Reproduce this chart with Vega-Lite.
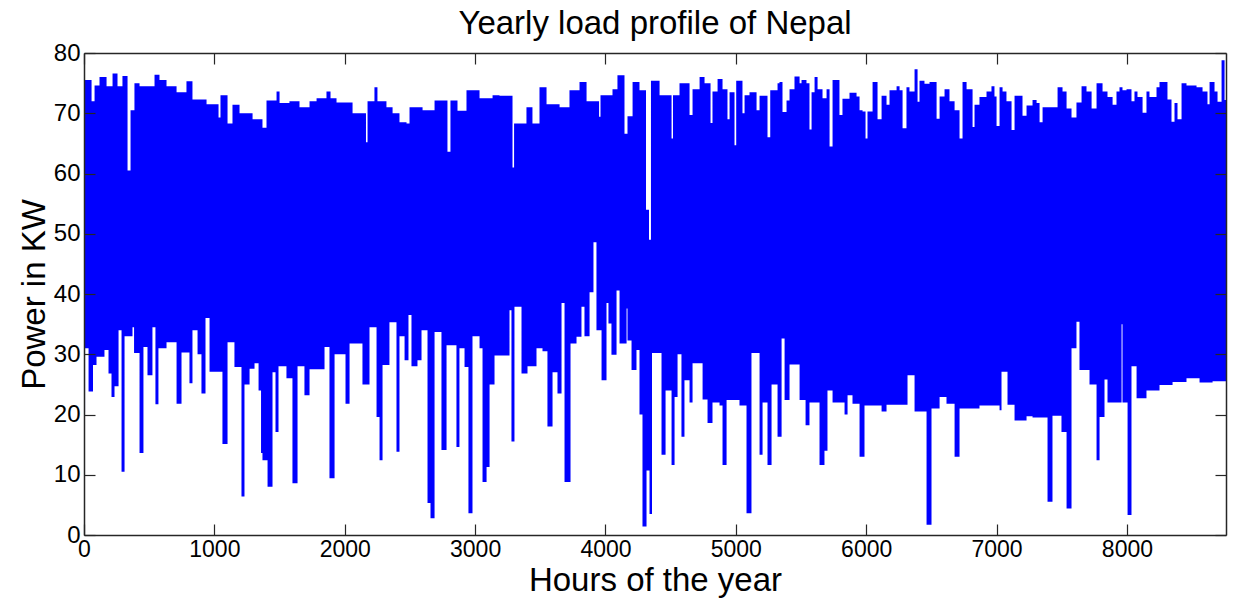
{
  "$schema": "https://vega.github.io/schema/vega-lite/v6.json",
  "autosize": {"type": "none"},
  "padding": {"left": 84, "top": 53, "right": 11, "bottom": 64},
  "width": 1142,
  "height": 482,
  "background": "#ffffff",
  "config": {"view": {"stroke": null}},
  "title": {"text": "Yearly load profile of Nepal", "font": "Liberation Sans", "fontSize": 33, "fontWeight": "normal", "color": "#000000", "offset": 0},
  "data": {"values": [
{"h":0,"hi":75.5,"lo":20.4},{"h":8,"hi":75.5,"lo":31},{"h":35,"hi":75.5,"lo":23.8},{"h":58,"hi":72,"lo":23.8},{"h":69,"hi":72,"lo":28.2},{"h":81,"hi":74.6,"lo":28.2},{"h":96,"hi":74.6,"lo":29.6},{"h":119,"hi":76,"lo":29.6},{"h":157,"hi":76,"lo":30.7},{"h":173,"hi":74.5,"lo":30.7},{"h":188,"hi":74.5,"lo":26.8},{"h":211,"hi":74.5,"lo":22.9},{"h":219,"hi":76.6,"lo":22.9},{"h":234,"hi":76.6,"lo":24.7},{"h":257,"hi":74.5,"lo":24.7},{"h":265,"hi":74.5,"lo":34},{"h":288,"hi":74.5,"lo":10.5},{"h":295,"hi":76.2,"lo":10.5},{"h":311,"hi":76.2,"lo":33},{"h":334,"hi":60.5,"lo":33},{"h":357,"hi":70.5,"lo":33},{"h":372,"hi":70.5,"lo":34.5},{"h":384,"hi":70.5,"lo":30.2},{"h":387,"hi":75,"lo":30.2},{"h":426,"hi":74.5,"lo":13.6},{"h":456,"hi":74.5,"lo":31.2},{"h":487,"hi":74.5,"lo":26.5},{"h":525,"hi":74.5,"lo":34.5},{"h":541,"hi":76.4,"lo":34.5},{"h":548,"hi":76.4,"lo":21.7},{"h":571,"hi":76.4,"lo":31},{"h":579,"hi":75.5,"lo":31},{"h":633,"hi":74.5,"lo":32},{"h":710,"hi":73.5,"lo":21.8},{"h":748,"hi":73.5,"lo":30.3},{"h":786,"hi":75.3,"lo":30.3},{"h":809,"hi":75.3,"lo":25.2},{"h":832,"hi":72.3,"lo":34},{"h":871,"hi":72.3,"lo":30},{"h":901,"hi":72.3,"lo":23.5},{"h":932,"hi":72.3,"lo":36},{"h":940,"hi":71.5,"lo":36},{"h":963,"hi":71.5,"lo":27.1},{"h":1032,"hi":69.3,"lo":27.1},{"h":1047,"hi":73,"lo":27.1},{"h":1062,"hi":73,"lo":15.1},{"h":1101,"hi":68.3,"lo":32},{"h":1139,"hi":71.4,"lo":32},{"h":1154,"hi":71.4,"lo":27.9},{"h":1193,"hi":70,"lo":27.9},{"h":1208,"hi":70,"lo":6.4},{"h":1231,"hi":70,"lo":25},{"h":1270,"hi":70,"lo":27.6},{"h":1293,"hi":69,"lo":27.6},{"h":1308,"hi":69,"lo":28.5},{"h":1339,"hi":69,"lo":24},{"h":1358,"hi":69,"lo":13.6},{"h":1369,"hi":67.6,"lo":12.4},{"h":1400,"hi":72.1,"lo":12.4},{"h":1408,"hi":72.1,"lo":8},{"h":1446,"hi":72.1,"lo":27},{"h":1469,"hi":72.1,"lo":17.1},{"h":1477,"hi":73.6,"lo":17.1},{"h":1492,"hi":73.6,"lo":28},{"h":1500,"hi":71.7,"lo":28},{"h":1553,"hi":71.7,"lo":26},{"h":1576,"hi":72,"lo":26},{"h":1599,"hi":72,"lo":8.6},{"h":1638,"hi":72,"lo":28},{"h":1653,"hi":71,"lo":28},{"h":1691,"hi":71,"lo":23.2},{"h":1730,"hi":72,"lo":27.5},{"h":1784,"hi":72.5,"lo":27.5},{"h":1845,"hi":72.5,"lo":31.2},{"h":1860,"hi":73.6,"lo":31.2},{"h":1883,"hi":73.6,"lo":9.4},{"h":1891,"hi":72.5,"lo":9.4},{"h":1922,"hi":72.5,"lo":30},{"h":1937,"hi":71.8,"lo":30},{"h":2006,"hi":71.8,"lo":21.8},{"h":2037,"hi":71.8,"lo":31.8},{"h":2060,"hi":70,"lo":31.8},{"h":2136,"hi":70,"lo":25},{"h":2163,"hi":65.2,"lo":25},{"h":2175,"hi":72,"lo":25},{"h":2190,"hi":72,"lo":34.5},{"h":2228,"hi":74.3,"lo":34.5},{"h":2244,"hi":74.3,"lo":19.6},{"h":2251,"hi":72,"lo":19.6},{"h":2267,"hi":72,"lo":12.4},{"h":2290,"hi":72,"lo":28.2},{"h":2320,"hi":71,"lo":28.2},{"h":2343,"hi":71,"lo":35.3},{"h":2367,"hi":70,"lo":35.3},{"h":2397,"hi":70,"lo":13.8},{"h":2420,"hi":68.5,"lo":33},{"h":2459,"hi":68.5,"lo":29},{"h":2474,"hi":68.3,"lo":29},{"h":2489,"hi":68.3,"lo":36.5},{"h":2497,"hi":71,"lo":36.5},{"h":2512,"hi":71,"lo":28},{"h":2558,"hi":71,"lo":29},{"h":2589,"hi":71,"lo":34},{"h":2597,"hi":70.5,"lo":34},{"h":2635,"hi":70.5,"lo":5.3},{"h":2658,"hi":70.5,"lo":2.8},{"h":2689,"hi":72.1,"lo":33.7},{"h":2742,"hi":72.1,"lo":14.1},{"h":2781,"hi":72.1,"lo":31.5},{"h":2788,"hi":63.6,"lo":31.5},{"h":2811,"hi":72.1,"lo":31.5},{"h":2857,"hi":72.1,"lo":14.6},{"h":2865,"hi":70.4,"lo":14.6},{"h":2880,"hi":70.4,"lo":31},{"h":2919,"hi":70.4,"lo":27.9},{"h":2934,"hi":73.8,"lo":27.9},{"h":2949,"hi":73.8,"lo":3.6},{"h":2980,"hi":73.8,"lo":33},{"h":3034,"hi":72.5,"lo":31},{"h":3057,"hi":72.5,"lo":8.8},{"h":3088,"hi":72.5,"lo":11.3},{"h":3111,"hi":72.5,"lo":25},{"h":3134,"hi":73,"lo":25},{"h":3149,"hi":73,"lo":29.8},{"h":3187,"hi":72.9,"lo":29.8},{"h":3264,"hi":72.9,"lo":37.3},{"h":3279,"hi":72.9,"lo":15.5},{"h":3287,"hi":61,"lo":15.5},{"h":3299,"hi":68.3,"lo":15.5},{"h":3302,"hi":68.3,"lo":37.9},{"h":3356,"hi":68.3,"lo":26.8},{"h":3394,"hi":71,"lo":26.8},{"h":3402,"hi":71,"lo":28},{"h":3440,"hi":68.3,"lo":28},{"h":3471,"hi":68.3,"lo":31},{"h":3494,"hi":74.3,"lo":31},{"h":3517,"hi":74.3,"lo":30.5},{"h":3548,"hi":71.5,"lo":30.5},{"h":3555,"hi":71.5,"lo":18},{"h":3594,"hi":71.5,"lo":27},{"h":3632,"hi":71.5,"lo":23.5},{"h":3648,"hi":71,"lo":23.5},{"h":3663,"hi":71,"lo":38.5},{"h":3686,"hi":71,"lo":8.8},{"h":3724,"hi":73.8,"lo":8.8},{"h":3732,"hi":73.8,"lo":31.8},{"h":3778,"hi":73.8,"lo":32.9},{"h":3801,"hi":75.2,"lo":32.9},{"h":3816,"hi":75.2,"lo":37.9},{"h":3839,"hi":75.2,"lo":33},{"h":3855,"hi":72,"lo":33},{"h":3878,"hi":72,"lo":40.3},{"h":3908,"hi":72,"lo":48.6},{"h":3931,"hi":72,"lo":34},{"h":3951,"hi":69.4,"lo":34},{"h":3962,"hi":73,"lo":34},{"h":3970,"hi":73,"lo":25.7},{"h":4008,"hi":73,"lo":38.5},{"h":4023,"hi":73,"lo":35.1},{"h":4046,"hi":73,"lo":29.9},{"h":4054,"hi":74,"lo":29.9},{"h":4085,"hi":74,"lo":40.6},{"h":4092,"hi":76.3,"lo":40.6},{"h":4108,"hi":76.3,"lo":31.8},{"h":4146,"hi":66.6,"lo":31.8},{"h":4162,"hi":66.6,"lo":37.6},{"h":4169,"hi":69.5,"lo":32.3},{"h":4200,"hi":69.5,"lo":27.4},{"h":4208,"hi":75.2,"lo":27.4},{"h":4238,"hi":75.2,"lo":30.7},{"h":4261,"hi":73.8,"lo":20},{"h":4284,"hi":73.8,"lo":1.4},{"h":4311,"hi":54,"lo":1.4},{"h":4315,"hi":54,"lo":10.7},{"h":4334,"hi":49,"lo":10.7},{"h":4338,"hi":49,"lo":3.5},{"h":4349,"hi":75.4,"lo":3.5},{"h":4357,"hi":75.4,"lo":30.2},{"h":4415,"hi":73,"lo":30.2},{"h":4430,"hi":73,"lo":13.3},{"h":4461,"hi":73,"lo":24},{"h":4507,"hi":65.8,"lo":11.6},{"h":4518,"hi":73,"lo":11.6},{"h":4530,"hi":73,"lo":22.9},{"h":4553,"hi":73,"lo":30},{"h":4568,"hi":75,"lo":30},{"h":4583,"hi":75,"lo":16.3},{"h":4606,"hi":75,"lo":25.7},{"h":4645,"hi":69.7,"lo":22},{"h":4668,"hi":74,"lo":28.5},{"h":4722,"hi":76,"lo":28.5},{"h":4745,"hi":76,"lo":22.5},{"h":4760,"hi":75,"lo":22.5},{"h":4783,"hi":75,"lo":18.6},{"h":4806,"hi":68.4,"lo":18.6},{"h":4821,"hi":73.6,"lo":22},{"h":4860,"hi":75.7,"lo":22},{"h":4875,"hi":75.7,"lo":21.5},{"h":4898,"hi":74,"lo":11.6},{"h":4929,"hi":74,"lo":22.4},{"h":4936,"hi":69,"lo":22.4},{"h":4952,"hi":73.5,"lo":22.4},{"h":4990,"hi":64.7,"lo":22.4},{"h":5003,"hi":75.4,"lo":22.4},{"h":5028,"hi":75.4,"lo":21.5},{"h":5051,"hi":70,"lo":21.5},{"h":5067,"hi":73,"lo":21.5},{"h":5082,"hi":73,"lo":3.6},{"h":5105,"hi":73.5,"lo":3.6},{"h":5120,"hi":73.5,"lo":30.2},{"h":5159,"hi":70.5,"lo":30.2},{"h":5182,"hi":72.9,"lo":13.3},{"h":5205,"hi":72.9,"lo":22},{"h":5243,"hi":66,"lo":11.6},{"h":5264,"hi":73.8,"lo":11.6},{"h":5274,"hi":73.8,"lo":25},{"h":5320,"hi":75,"lo":16.3},{"h":5335,"hi":75.2,"lo":16.3},{"h":5351,"hi":75.2,"lo":32.6},{"h":5358,"hi":70.2,"lo":32.6},{"h":5374,"hi":70.2,"lo":22.4},{"h":5389,"hi":72.1,"lo":22.4},{"h":5412,"hi":74,"lo":28.3},{"h":5450,"hi":76.1,"lo":28.3},{"h":5489,"hi":75,"lo":22.4},{"h":5504,"hi":75.5,"lo":22.4},{"h":5535,"hi":75.5,"lo":18.2},{"h":5542,"hi":75,"lo":18.2},{"h":5565,"hi":67.3,"lo":22},{"h":5581,"hi":73.5,"lo":22},{"h":5604,"hi":76,"lo":22},{"h":5627,"hi":74,"lo":22},{"h":5642,"hi":74,"lo":11.6},{"h":5665,"hi":72.5,"lo":11.6},{"h":5680,"hi":72.5,"lo":14},{"h":5696,"hi":74,"lo":14},{"h":5703,"hi":74,"lo":24},{"h":5719,"hi":64.5,"lo":24},{"h":5742,"hi":75.5,"lo":22},{"h":5795,"hi":69.7,"lo":22},{"h":5818,"hi":72.4,"lo":22},{"h":5834,"hi":72.4,"lo":20},{"h":5857,"hi":72.4,"lo":23.2},{"h":5872,"hi":73.4,"lo":23.2},{"h":5895,"hi":73.4,"lo":21.8},{"h":5926,"hi":72.8,"lo":21.8},{"h":5949,"hi":70.5,"lo":13},{"h":5972,"hi":70.3,"lo":13},{"h":5987,"hi":70.3,"lo":21.5},{"h":5995,"hi":65.8,"lo":21.5},{"h":6010,"hi":70.3,"lo":21.5},{"h":6049,"hi":75.2,"lo":21.5},{"h":6087,"hi":69,"lo":21.5},{"h":6118,"hi":72.9,"lo":20.5},{"h":6156,"hi":71.4,"lo":21.6},{"h":6179,"hi":73.8,"lo":21.6},{"h":6233,"hi":74.5,"lo":21.6},{"h":6256,"hi":73.8,"lo":21.6},{"h":6279,"hi":67.5,"lo":21.6},{"h":6309,"hi":74.3,"lo":21.6},{"h":6317,"hi":74.3,"lo":26.5},{"h":6332,"hi":73.6,"lo":26.5},{"h":6371,"hi":77.3,"lo":20.5},{"h":6394,"hi":71.9,"lo":20.5},{"h":6409,"hi":75.4,"lo":20.5},{"h":6447,"hi":74.9,"lo":20.5},{"h":6463,"hi":74.9,"lo":1.7},{"h":6486,"hi":75.2,"lo":1.7},{"h":6501,"hi":75.2,"lo":21},{"h":6540,"hi":69.1,"lo":21},{"h":6563,"hi":72.8,"lo":22.9},{"h":6601,"hi":74,"lo":22.9},{"h":6616,"hi":74,"lo":21.8},{"h":6639,"hi":72,"lo":21.8},{"h":6678,"hi":70.5,"lo":13},{"h":6716,"hi":65.8,"lo":21},{"h":6739,"hi":75.2,"lo":21},{"h":6770,"hi":74,"lo":21},{"h":6816,"hi":67.7,"lo":21},{"h":6831,"hi":71.4,"lo":21},{"h":6869,"hi":72.7,"lo":21.5},{"h":6923,"hi":73.6,"lo":21.5},{"h":6961,"hi":74.5,"lo":21.5},{"h":6984,"hi":72.8,"lo":21.5},{"h":7000,"hi":67.9,"lo":21.5},{"h":7023,"hi":74.3,"lo":20.7},{"h":7038,"hi":74.3,"lo":27.1},{"h":7046,"hi":73.6,"lo":27.1},{"h":7076,"hi":72,"lo":27.1},{"h":7084,"hi":72,"lo":21.6},{"h":7115,"hi":67.2,"lo":21.6},{"h":7138,"hi":72.9,"lo":19},{"h":7199,"hi":69.6,"lo":19},{"h":7230,"hi":71.3,"lo":19.7},{"h":7276,"hi":72.2,"lo":19.5},{"h":7307,"hi":71.7,"lo":19.5},{"h":7330,"hi":68.5,"lo":19.5},{"h":7353,"hi":71,"lo":19.5},{"h":7391,"hi":71,"lo":5.5},{"h":7429,"hi":71,"lo":19.8},{"h":7468,"hi":74.3,"lo":19.8},{"h":7498,"hi":74.3,"lo":17.1},{"h":7506,"hi":73.6,"lo":17.1},{"h":7537,"hi":70.8,"lo":4.4},{"h":7575,"hi":69.3,"lo":31},{"h":7613,"hi":71.8,"lo":35.4},{"h":7636,"hi":71.8,"lo":27.4},{"h":7652,"hi":74.5,"lo":27.4},{"h":7690,"hi":73.6,"lo":27.4},{"h":7713,"hi":73.6,"lo":25},{"h":7729,"hi":70.8,"lo":25},{"h":7767,"hi":75,"lo":12.4},{"h":7790,"hi":75,"lo":19.6},{"h":7813,"hi":73.6,"lo":19.6},{"h":7828,"hi":73.6,"lo":25.8},{"h":7851,"hi":72.7,"lo":22},{"h":7890,"hi":71.4,"lo":22},{"h":7920,"hi":73.6,"lo":22},{"h":7943,"hi":74.3,"lo":22},{"h":7959,"hi":74.3,"lo":35},{"h":7966,"hi":73.8,"lo":22},{"h":7997,"hi":74,"lo":22},{"h":8005,"hi":74,"lo":3.3},{"h":8035,"hi":72,"lo":28},{"h":8058,"hi":73.6,"lo":28},{"h":8074,"hi":73.6,"lo":22.7},{"h":8081,"hi":72.7,"lo":22.7},{"h":8120,"hi":70.1,"lo":22.7},{"h":8150,"hi":73.6,"lo":24},{"h":8173,"hi":72.7,"lo":24},{"h":8227,"hi":74.3,"lo":24},{"h":8250,"hi":75.2,"lo":24.9},{"h":8311,"hi":72.3,"lo":24.9},{"h":8342,"hi":68.6,"lo":24.9},{"h":8350,"hi":68.6,"lo":25.4},{"h":8365,"hi":71.7,"lo":25.4},{"h":8388,"hi":69,"lo":25.4},{"h":8419,"hi":75,"lo":25.4},{"h":8457,"hi":74.6,"lo":26},{"h":8534,"hi":74.3,"lo":26},{"h":8557,"hi":74.3,"lo":25.3},{"h":8580,"hi":73.6,"lo":25.3},{"h":8618,"hi":71.5,"lo":25.3},{"h":8634,"hi":75.2,"lo":25.3},{"h":8657,"hi":75.2,"lo":25.5},{"h":8672,"hi":73.6,"lo":25.5},{"h":8695,"hi":71.9,"lo":25.5},{"h":8726,"hi":78.8,"lo":25.5},{"h":8749,"hi":72.2,"lo":25.5},{"h":8760,"hi":72.2,"lo":25.5}
  ]},
  "resolve": {"axis": {"x": "independent", "y": "independent"}},
  "layer": [
    {
      "mark": {"type": "area", "interpolate": "step-after", "color": "#0000ff", "opacity": 1},
      "encoding": {
        "x": {"field": "h", "type": "quantitative",
              "scale": {"domain": [0, 8760], "nice": false, "zero": false},
              "axis": {"orient": "bottom", "values": [0,1000,2000,3000,4000,5000,6000,7000,8000], "format": "d", "grid": false,
                       "tickSize": -11, "tickColor": "#262626", "tickWidth": 1.2, "domainColor": "#262626", "domainWidth": 1.5,
                       "labelFont": "Liberation Sans", "labelFontSize": 23, "labelColor": "#000000", "labelPadding": 14, "labelFlush": false,
                       "title": "Hours of the year", "titleFont": "Liberation Sans", "titleFontSize": 33, "titleFontWeight": "normal", "titleColor": "#000000", "titlePadding": 3, "zindex": 1}},
        "y": {"field": "hi", "type": "quantitative",
              "scale": {"domain": [0, 80], "nice": false},
              "axis": {"orient": "left", "values": [0,10,20,30,40,50,60,70,80], "format": "d", "grid": false,
                       "tickSize": -11, "tickColor": "#262626", "tickWidth": 1.2, "domainColor": "#262626", "domainWidth": 1.5,
                       "labelFont": "Liberation Sans", "labelFontSize": 24, "labelColor": "#000000", "labelPadding": 15, "labelFlush": false,
                       "title": "Power in KW", "titleFont": "Liberation Sans", "titleFontSize": 33, "titleFontWeight": "normal", "titleColor": "#000000", "titlePadding": 2, "zindex": 1}},
        "y2": {"field": "lo"}
      }
    },
    {
      "mark": {"type": "point", "opacity": 0},
      "encoding": {
        "x": {"field": "h", "type": "quantitative",
              "axis": {"orient": "top", "values": [0,1000,2000,3000,4000,5000,6000,7000,8000], "grid": false, "labels": false, "title": null,
                       "tickSize": -11, "tickColor": "#262626", "tickWidth": 1.2, "domainColor": "#262626", "domainWidth": 1.5, "zindex": 1}},
        "y": {"field": "hi", "type": "quantitative",
              "axis": {"orient": "right", "values": [0,10,20,30,40,50,60,70,80], "grid": false, "labels": false, "title": null,
                       "tickSize": -11, "tickColor": "#262626", "tickWidth": 1.2, "domainColor": "#262626", "domainWidth": 1.5, "zindex": 1}}
      }
    }
  ]
}
